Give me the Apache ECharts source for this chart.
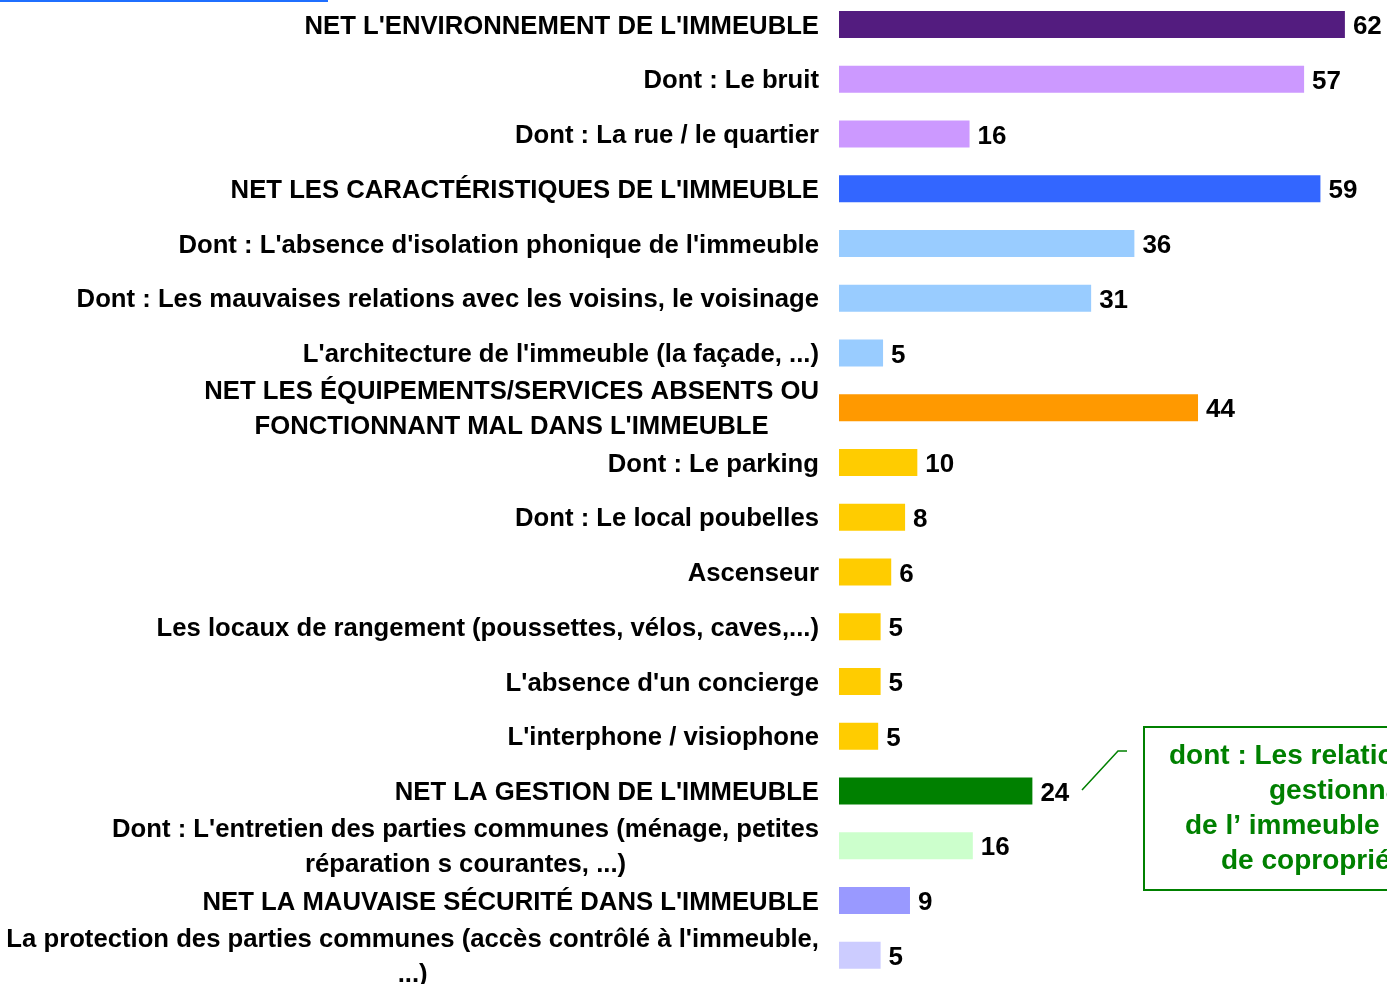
<!DOCTYPE html>
<html lang="fr">
<head>
<meta charset="UTF-8">
<title>Motifs</title>
<script src="https://cdn.jsdelivr.net/npm/echarts@6/dist/echarts.min.js"></script>
<style>
  html, body { margin: 0; padding: 0; background: #fff; }
  #chartmain { width: 1387px; height: 984px; }
</style>
</head>
<body>
<div id="chartmain"></div>
<script type="text/javascript">
    // categories, top to bottom
    var categories = [
        "NET L'ENVIRONNEMENT DE L'IMMEUBLE",
        "Dont : Le bruit",
        "Dont : La rue / le quartier",
        "NET LES CARACTÉRISTIQUES DE L'IMMEUBLE",
        "Dont : L'absence d'isolation phonique de l'immeuble",
        "Dont : Les mauvaises relations avec les voisins, le voisinage",
        "L'architecture de l'immeuble (la façade, ...)",
        "NET LES ÉQUIPEMENTS/SERVICES ABSENTS OU\nFONCTIONNANT MAL DANS L'IMMEUBLE",
        "Dont : Le parking",
        "Dont : Le local poubelles",
        "Ascenseur",
        "Les locaux de rangement (poussettes, vélos, caves,...)",
        "L'absence d'un concierge",
        "L'interphone / visiophone",
        "NET LA GESTION DE L'IMMEUBLE",
        "Dont : L'entretien des parties communes (ménage, petites\nréparation s courantes, ...)",
        "NET LA MAUVAISE SÉCURITÉ DANS L'IMMEUBLE",
        "La protection des parties communes (accès contrôlé à l'immeuble,\n...)"
    ];
    // % (bar lengths, labels show the rounded value)
    var values = [62, 57, 16, 59, 36.2, 30.9, 5.4, 44, 9.6, 8.1, 6.4, 5.1, 5.1, 4.8, 23.7, 16.4, 8.7, 5.1];

    // note box on the right (cut by the page edge)
    var noteLines = [
        "dont : Les relations avec le",
        "gestionnaire",
        "de l’ immeuble ou le syndic",
        "de copropriété"
    ];

    var barColors = [
        '#531C7F', '#CC99FF', '#CC99FF',
        '#3366FF', '#99CCFF', '#99CCFF', '#99CCFF',
        '#FF9900', '#FFCC00', '#FFCC00', '#FFCC00', '#FFCC00', '#FFCC00', '#FFCC00',
        '#008000', '#CCFFCC',
        '#9999FF', '#CCCCFF'
    ];
    var noteX = [1169, 1269, 1185, 1221];
    var font = '"Liberation Sans", Arial, sans-serif';
    var green = '#008000';

    var myChart = echarts.init(document.getElementById('chartmain'), null, {renderer: 'canvas'});

    var noteTexts = noteLines.map(function (t, i) {
        return {
            type: 'text',
            left: noteX[i],
            top: 756 + i * 35 - 14,
            style: {
                text: t,
                fill: green,
                font: 'bold 28px ' + font
            }
        };
    });

    var option = {
        animation: false,
        grid: {
            left: 839,
            width: 546.7,
            top: -2.8,
            height: 985.5,
            containLabel: false,
            outerBoundsMode: 'none'
        },
        xAxis: {
            type: 'value',
            min: 0,
            max: 67,
            show: false
        },
        yAxis: {
            type: 'category',
            data: categories,
            inverse: true,
            axisLine: {show: false},
            axisTick: {show: false},
            splitLine: {show: false},
            axisLabel: {
                interval: 0,
                margin: 20,
                padding: [4, 0, 0, 0],
                formatter: function (v) {
                    return v.split('\n').map(function (l) { return '{c|' + l + '}'; }).join('\n');
                },
                rich: {
                    c: {
                        align: 'center',
                        fontSize: 25.7,
                        fontWeight: 'bold',
                        fontFamily: font,
                        color: '#000',
                        lineHeight: 35
                    }
                }
            }
        },
        series: [{
            type: 'bar',
            barWidth: 27,
            data: values.map(function (v, i) {
                return {value: v, itemStyle: {color: barColors[i]}};
            }),
            label: {
                show: true,
                position: 'right',
                distance: 8,
                offset: [0, 2.5],
                formatter: function (p) { return Math.round(p.value); },
                fontSize: 26,
                fontWeight: 'bold',
                fontFamily: font,
                color: '#000'
            }
        }],
        graphic: [
            // blue rule at the top left
            {type: 'rect', left: 0, top: 0, shape: {width: 328, height: 2}, style: {fill: '#1F6FFF'}},
            // leader line to the note box
            {
                type: 'polyline',
                shape: {points: [[1082, 790], [1118, 751], [1127, 751]]},
                style: {stroke: green, lineWidth: 1.5, fill: null}
            },
            {
                type: 'rect',
                shape: {x: 1144, y: 727, width: 300, height: 163},
                style: {stroke: green, lineWidth: 2, fill: '#fff'}
            }
        ].concat(noteTexts)
    };
    myChart.setOption(option);
</script>
</body>
</html>
